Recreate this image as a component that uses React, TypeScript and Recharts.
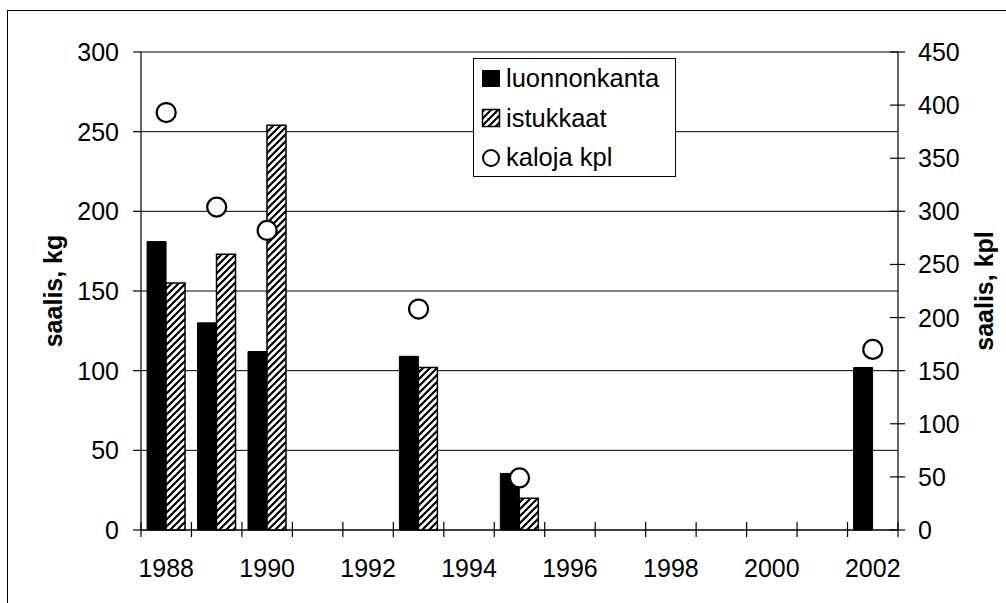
import { ComposedChart, Bar, Line, XAxis, YAxis, CartesianGrid } from 'recharts'

const years = [1988, 1989, 1990, 1991, 1992, 1993, 1994, 1995, 1996, 1997, 1998, 1999, 2000, 2001, 2002]
const luonnonkanta = [181, 130, 112, null, null, 109, null, 35.5, null, null, null, null, null, null, 102]
const istukkaat = [155, 173, 254, null, null, 102, null, 20, null, null, null, null, null, null, null]
const kalojaKpl = [393, 304, 282, null, null, 208, null, 49, null, null, null, null, null, null, 170]
const kgTicks = [0, 50, 100, 150, 200, 250, 300]
const kplTicks = [0, 50, 100, 150, 200, 250, 300, 350, 400, 450]

const data = years.map((v, i) => ({
  vuosi: v,
  luonnonkanta: luonnonkanta[i],
  istukkaat: istukkaat[i],
  kaloja: kalojaKpl[i],
}))

const W = 1006
const H = 603
const PLOT_LEFT = 141
const PLOT_RIGHT = 898
const PLOT_BOTTOM = 530
const band = (PLOT_RIGHT - PLOT_LEFT) / years.length
const FONT = '"Liberation Sans", Arial, sans-serif'

// kategoria-akselin väkäset ovat luokkien rajoilla, otsikot joka toisessa
function XTick({ x, y, payload, index }: any) {
  const left = x - band / 2
  return (
    <g>
      <line x1={left} x2={left} y1={y - 8} y2={y + 7} stroke="#000" strokeWidth={1.2} />
      {index === years.length - 1 && (
        <line x1={x + band / 2} x2={x + band / 2} y1={y - 8} y2={y + 7} stroke="#000" strokeWidth={1.2} />
      )}
      {index % 2 === 0 && (
        <text x={x} y={y + 47} textAnchor="middle" fontSize={25} fontFamily={FONT} fill="#000">
          {payload.value}
        </text>
      )}
    </g>
  )
}

function LeftTick({ x, y, payload }: any) {
  return (
    <g>
      <line x1={x - 8} x2={x} y1={y} y2={y} stroke="#000" strokeWidth={1.2} />
      <text x={x - 22} y={y} dy="0.36em" textAnchor="end" fontSize={25} fontFamily={FONT} fill="#000">
        {payload.value}
      </text>
    </g>
  )
}

function RightTick({ x, y, payload }: any) {
  return (
    <g>
      <line x1={x - 8} x2={x + 7} y1={y} y2={y} stroke="#000" strokeWidth={1.2} />
      <text x={x + 20} y={y} dy="0.36em" textAnchor="start" fontSize={25} fontFamily={FONT} fill="#000">
        {payload.value}
      </text>
    </g>
  )
}

function Selite() {
  const rows = ['luonnonkanta', 'istukkaat', 'kaloja kpl']
  return (
    <svg width={203} height={119} style={{ position: 'absolute', left: 473, top: 58 }}>
      <rect x={0.5} y={0.5} width={202} height={118} fill="#fff" stroke="#000" />
      <rect x={9} y={12} width={18} height={17} fill="#000" />
      <rect x={9.5} y={51.5} width={17} height={17} fill="url(#vinoviiva)" stroke="#000" strokeWidth={1.5} />
      <circle cx={18} cy={100} r={8} fill="#fff" stroke="#000" strokeWidth={2} />
      {rows.map((r, i) => (
        <text key={r} x={33} y={29 + i * 39.5} fontSize={25.5} fontFamily={FONT} fill="#000">
          {r}
        </text>
      ))}
    </svg>
  )
}

export default function App() {
  return (
    <div style={{ position: 'absolute', left: 0, top: 0, width: W, height: H, overflow: 'hidden', background: '#fff', fontFamily: FONT }}>
      <svg width={W} height={H} style={{ position: 'absolute', left: 0, top: 0 }}>
        <defs>
          <pattern id="vinoviiva" patternUnits="userSpaceOnUse" width={7} height={7}>
            <rect width={7} height={7} fill="#fff" />
            <path d="M-2,2 L2,-2 M0,7 L7,0 M5,9 L9,5" stroke="#000" strokeWidth={2.2} />
          </pattern>
        </defs>
        <rect x={7.5} y={10.5} width={1100} height={700} fill="none" stroke="#000" />
        <text transform="translate(62,291) rotate(-90)" textAnchor="middle" fontSize={25} fontWeight="bold" fontFamily={FONT}>
          saalis, kg
        </text>
        <text transform="translate(993,291) rotate(-90)" textAnchor="middle" fontSize={25} fontWeight="bold" fontFamily={FONT}>
          saalis, kpl
        </text>
      </svg>
      <div style={{ position: 'absolute', left: 0, top: 0 }}>
        <ComposedChart
          width={W}
          height={H}
          data={data}
          margin={{ top: 52, right: 0, bottom: 0, left: 0 }}
          barCategoryGap="12%"
          barGap={0}
        >
          <CartesianGrid yAxisId="left" vertical={false} stroke="#000" strokeWidth={1} />
          <XAxis
            dataKey="vuosi"
            height={H - PLOT_BOTTOM}
            interval={0}
            tickSize={0}
            tickMargin={0}
            tick={<XTick />}
            axisLine={{ stroke: '#000', strokeWidth: 1.2 }}
          />
          <YAxis
            yAxisId="left"
            width={PLOT_LEFT}
            domain={[0, 300]}
            ticks={kgTicks}
            tickSize={0}
            tickMargin={0}
            tick={<LeftTick />}
            axisLine={{ stroke: '#000', strokeWidth: 1.2 }}
          />
          <YAxis
            yAxisId="right"
            orientation="right"
            width={W - PLOT_RIGHT}
            domain={[0, 450]}
            ticks={kplTicks}
            tickSize={0}
            tickMargin={0}
            tick={<RightTick />}
            axisLine={{ stroke: '#000', strokeWidth: 1.2 }}
          />
          <Bar yAxisId="left" dataKey="luonnonkanta" fill="#000" stroke="#000" strokeWidth={1} isAnimationActive={false} />
          <Bar yAxisId="left" dataKey="istukkaat" fill="url(#vinoviiva)" stroke="#000" strokeWidth={1.5} isAnimationActive={false} />
          <Line
            yAxisId="right"
            dataKey="kaloja"
            stroke="none"
            dot={{ r: 9.5, fill: '#fff', stroke: '#000', strokeWidth: 2.2 }}
            activeDot={false}
            isAnimationActive={false}
          />
        </ComposedChart>
      </div>
      <Selite />
    </div>
  )
}
